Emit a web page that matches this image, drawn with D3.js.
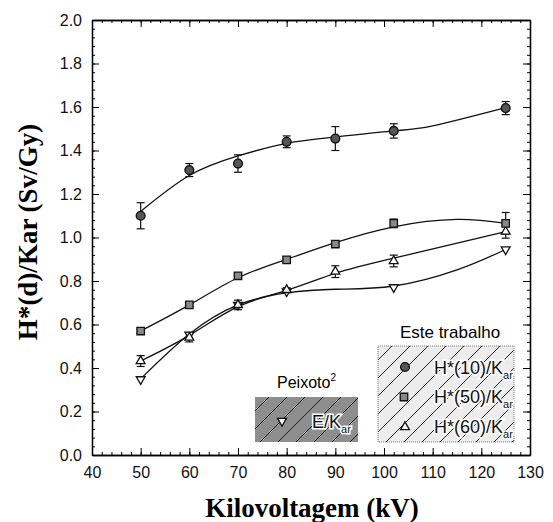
<!DOCTYPE html>
<html>
<head>
<meta charset="utf-8">
<script src="https://cdn.jsdelivr.net/npm/d3@7"></script>
<style>
  body { margin: 0; background: #fff; }
  text { font-family: "Liberation Sans", Arial, sans-serif; }
  .title { font-family: "Liberation Serif", "Times New Roman", serif; font-weight: bold; }
</style>
</head>
<body>
<div id="chart"></div>
<script>
"use strict";
// measured points
const kv = [50, 60, 70, 80, 90, 102, 125]
const h10 = [1.10, 1.31, 1.34, 1.44, 1.455, 1.49, 1.595]
const h10Err = [0.06, 0.03, 0.04, 0.027, 0.055, 0.033, 0.03]
const h50 = [0.57, 0.69, 0.824, 0.897, 0.97, 1.065, 1.065]
const h50Err = [0.008, 0.008, 0.008, 0.01, 0.01, 0.02, 0.05]
const h60 = [0.432, 0.54, 0.69, 0.759, 0.843, 0.892, 1.027]
const h60Err = [0.025, 0.02, 0.022, 0.01, 0.027, 0.027, 0.03]
// Peixoto E/Kar
const kvE = [50, 60, 70, 80, 102, 125]
const eKar = [0.348, 0.553, 0.69, 0.752, 0.771, 0.945]

// fitted curves
const fitKv10 = [50, 60, 70, 80, 90, 102, 110, 125]
const fit10 = [1.12, 1.285, 1.375, 1.433, 1.462, 1.49, 1.513, 1.597]
const fitKv50 = [50, 60, 70, 80, 90, 102, 115, 125]
const fit50 = [0.57, 0.69, 0.815, 0.9, 0.976, 1.049, 1.083, 1.065]
const fitKv60 = [50, 60, 70, 80, 90, 102, 125]
const fit60 = [0.432, 0.55, 0.682, 0.757, 0.835, 0.905, 1.027]
const fitKvE = [50, 60, 70, 80, 90, 102, 115, 125]
const fitE = [0.35, 0.556, 0.69, 0.745, 0.762, 0.777, 0.851, 0.945]

const xTicks = [40, 50, 60, 70, 80, 90, 100, 110, 120, 130]
const yTicks = [0.0, 0.2, 0.4, 0.6, 0.8, 1.0, 1.2, 1.4, 1.6, 1.8, 2.0]

let m = { width: 553, height: 522, left: 92, right: 530, top: 20, bottom: 455 }

const svg = d3.select("#chart").append("svg")
    .attr("width", m.width)
    .attr("height", m.height)

const x = d3.scaleLinear().domain([40, 130]).range([m.left, m.right])
const y = d3.scaleLinear().domain([0, 2]).range([m.bottom, m.top])

// hatch patterns for the legend boxes
const defs = svg.append("defs")
function hatch(id, bg) {
  let p = defs.append("pattern")
      .attr("id", id)
      .attr("patternUnits", "userSpaceOnUse")
      .attr("width", 18)
      .attr("height", 18)
  p.append("rect").attr("width", 18).attr("height", 18).attr("fill", bg)
  p.append("path")
      .attr("d", "M0,18L18,0M-4.5,4.5L4.5,-4.5M13.5,22.5L22.5,13.5")
      .attr("stroke", "#111")
      .attr("stroke-width", 0.9)
}
hatch("hatchDark", "#8e8e8e")
hatch("hatchLight", "#ececec")

// axes: major + minor ticks, all pointing inward
function styleAxis(g) {
  g.selectAll("path").attr("stroke", "#000").attr("stroke-width", 1.3)
  g.selectAll("line").attr("stroke", "#000")
  g.selectAll("text").attr("font-size", 16).attr("fill", "#111")
}
const xMinor = d3.range(40, 131, 2)
const yMinor = d3.range(0, 2.001, 0.04)

svg.append("g")
    .attr("transform", `translate(0,${m.bottom})`)
    .call(d3.axisBottom(x).tickValues(xMinor).tickSize(-3).tickFormat("").tickSizeOuter(0))
    .call(styleAxis)
svg.append("g")
    .attr("transform", `translate(0,${m.bottom})`)
    .call(d3.axisBottom(x).tickValues(xTicks).tickSize(-7).tickPadding(12).tickSizeOuter(0).tickFormat(d3.format("d")))
    .call(styleAxis)
svg.append("g")
    .attr("transform", `translate(0,${m.top})`)
    .call(d3.axisTop(x).tickValues(xMinor).tickSize(-3).tickFormat("").tickSizeOuter(0))
    .call(styleAxis)
svg.append("g")
    .attr("transform", `translate(0,${m.top})`)
    .call(d3.axisTop(x).tickValues(xTicks).tickSize(-7).tickFormat("").tickSizeOuter(0))
    .call(styleAxis)

svg.append("g")
    .attr("transform", `translate(${m.left},0)`)
    .call(d3.axisLeft(y).tickValues(yMinor).tickSize(-3).tickFormat("").tickSizeOuter(0))
    .call(styleAxis)
svg.append("g")
    .attr("transform", `translate(${m.left},0)`)
    .call(d3.axisLeft(y).tickValues(yTicks).tickSize(-7).tickPadding(10).tickSizeOuter(0).tickFormat(d3.format(".1f")))
    .call(styleAxis)
svg.append("g")
    .attr("transform", `translate(${m.right},0)`)
    .call(d3.axisRight(y).tickValues(yMinor).tickSize(-3).tickFormat("").tickSizeOuter(0))
    .call(styleAxis)
svg.append("g")
    .attr("transform", `translate(${m.right},0)`)
    .call(d3.axisRight(y).tickValues(yTicks).tickSize(-7).tickFormat("").tickSizeOuter(0))
    .call(styleAxis)

// axis titles
svg.append("text")
    .attr("class", "title")
    .attr("x", (m.left + m.right) / 2 + 1)
    .attr("y", 517)
    .attr("text-anchor", "middle")
    .attr("font-size", 27)
    .text("Kilovoltagem (kV)")
svg.append("text")
    .attr("class", "title")
    .attr("transform", "translate(37,232)rotate(-90)")
    .attr("text-anchor", "middle")
    .attr("font-size", 27)
    .text("H*(d)/Kar (Sv/Gy)")

// legend boxes
svg.append("rect")
    .attr("x", 255).attr("y", 397)
    .attr("width", 103).attr("height", 45)
    .attr("fill", "url(#hatchDark)")
svg.append("rect")
    .attr("x", 378).attr("y", 346)
    .attr("width", 136).attr("height", 96)
    .attr("fill", "url(#hatchLight)")
    .attr("stroke", "#777")
    .attr("stroke-dasharray", "1,1")

svg.append("text")
    .attr("x", 277).attr("y", 388)
    .attr("font-size", 16)
    .text("Peixoto")
    .append("tspan").attr("dy", -7).attr("font-size", 10).text("2")
svg.append("text")
    .attr("x", 450).attr("y", 338)
    .attr("text-anchor", "middle")
    .attr("font-size", 17)
    .text("Este trabalho")

function legendLabel(xp, yp, main) {
  let t = svg.append("text")
      .attr("x", xp).attr("y", yp)
      .attr("font-size", 18)
      .attr("fill", "#111")
      .attr("stroke", "#fff")
      .attr("stroke-width", 3)
      .attr("paint-order", "stroke")
  t.append("tspan").text(main)
  t.append("tspan").attr("dy", 5).attr("font-size", 11).text("ar")
}
legendLabel(434, 374, "H*(10)/K")
legendLabel(434, 403, "H*(50)/K")
legendLabel(434, 433, "H*(60)/K")
legendLabel(312, 428, "E/K")

// fitted curves
const line = d3.line()
    .x(d => x(d[0]))
    .y(d => y(d[1]))
    .curve(d3.curveNatural)
const fits = [[fitKv10, fit10], [fitKv50, fit50], [fitKv60, fit60], [fitKvE, fitE]]
fits.forEach(function(f) {
  svg.append("path")
      .datum(d3.zip(f[0], f[1]))
      .attr("d", line)
      .attr("fill", "none")
      .attr("stroke", "#111")
      .attr("stroke-width", 1.3)
})

// error bars
function errorBars(vals, errs) {
  let g = svg.append("g").attr("stroke", "#111").attr("stroke-width", 1.2)
  kv.forEach(function(k, i) {
    let x0 = x(k), y1 = y(vals[i] + errs[i]), y2 = y(vals[i] - errs[i])
    g.append("line").attr("x1", x0).attr("x2", x0).attr("y1", y1).attr("y2", y2)
    g.append("line").attr("x1", x0 - 4).attr("x2", x0 + 4).attr("y1", y1).attr("y2", y1)
    g.append("line").attr("x1", x0 - 4).attr("x2", x0 + 4).attr("y1", y2).attr("y2", y2)
  })
}
errorBars(h10, h10Err)
errorBars(h50, h50Err)
errorBars(h60, h60Err)

// markers
const sym = {
  circle: d3.symbol().type(d3.symbolCircle).size(62),
  square: d3.symbol().type(d3.symbolSquare).size(56),
  triangle: d3.symbol().type(d3.symbolTriangle).size(34)
}
function markers(xs, vals, shape, fill, rot) {
  svg.append("g").selectAll("path")
      .data(d3.zip(xs, vals))
      .enter()
      .append("path")
        .attr("d", sym[shape]())
        .attr("transform", d => `translate(${x(d[0])},${y(d[1])})rotate(${rot})`)
        .attr("fill", fill)
        .attr("stroke", "#111")
        .attr("stroke-width", 1.3)
}
markers(kvE, eKar, "triangle", "#fff", 180)
markers(kv, h60, "triangle", "#fff", 0)
markers(kv, h50, "square", "#888", 0)
markers(kv, h10, "circle", "#555", 0)

// legend symbols
function legendSymbol(xp, yp, shape, fill, rot) {
  svg.append("path")
      .attr("d", sym[shape]())
      .attr("transform", `translate(${xp},${yp})rotate(${rot})`)
      .attr("fill", fill)
      .attr("stroke", "#111")
      .attr("stroke-width", 1.3)
}
legendSymbol(405, 367, "circle", "#555", 0)
legendSymbol(404, 397, "square", "#888", 0)
legendSymbol(405, 427, "triangle", "#fff", 0)
legendSymbol(282, 421, "triangle", "#fff", 180)
</script>
</body>
</html>
